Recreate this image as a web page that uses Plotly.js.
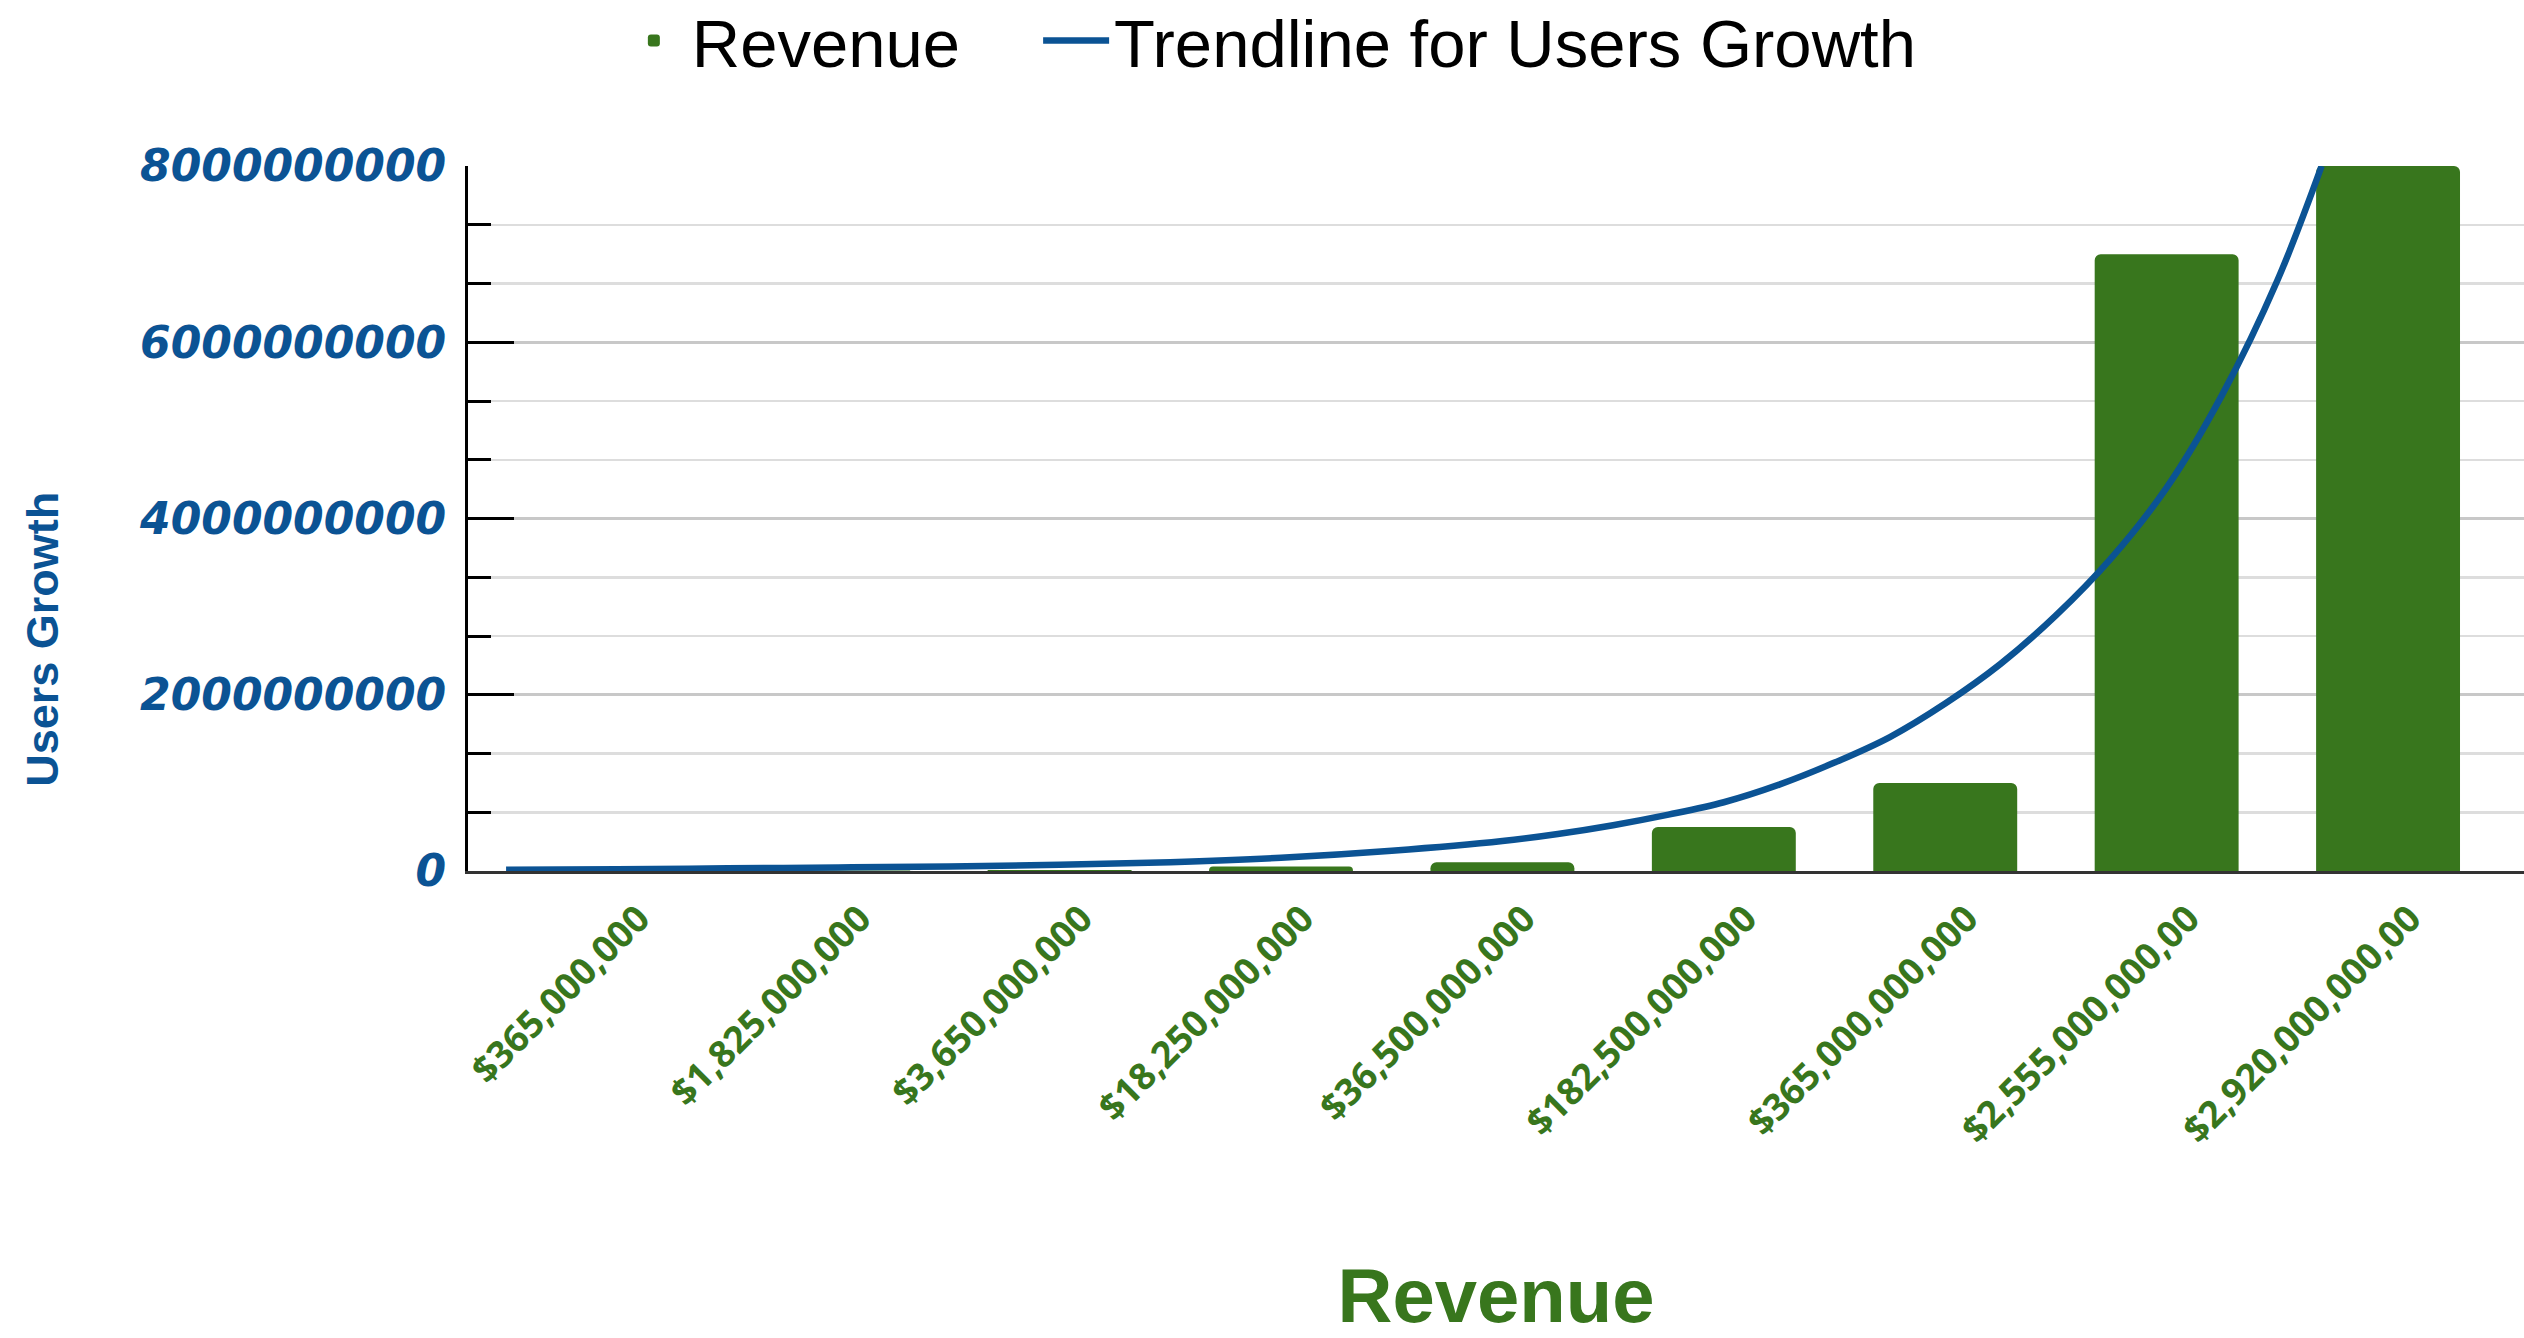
<!DOCTYPE html>
<html>
<head>
<meta charset="utf-8">
<script src="https://cdn.plot.ly/plotly-3.0.1.min.js"></script>
<style>
  html, body { margin: 0; padding: 0; background: #ffffff; }
  #chart { width: 2524px; height: 1338px; }
</style>
</head>
<body>
<div id="chart"></div>
<script>
// Category labels (Revenue) as shown on the x axis
const revenueLabels = [
  "$365,000,000",
  "$1,825,000,000",
  "$3,650,000,000",
  "$18,250,000,000",
  "$36,500,000,000",
  "$182,500,000,000",
  "$365,000,000,000",
  "$2,555,000,000,00",
  "$2,920,000,000,00"
];

// Users Growth values (bar heights)
const usersGrowth = [1000000, 5000000, 10000000, 50000000, 100000000, 500000000, 1000000000, 7000000000, 8000000000];

// Trendline for Users Growth (x in category-index units)
const trendX = [-0.5, 0, 0.5, 1, 1.5, 2, 2.5, 3, 3.5, 4, 4.25, 4.5, 4.75, 5, 5.25, 5.5, 5.75, 6, 6.25, 6.5, 6.75, 7, 7.25, 7.5, 7.7];
const trendY = [15e6, 20e6, 30e6, 40e6, 52e6, 70e6, 100e6, 150e6, 230e6, 340e6, 420e6, 520e6, 640e6, 780e6, 980e6, 1230e6, 1520e6, 1900e6, 2350e6, 2900e6, 3550e6, 4350e6, 5400e6, 6700e6, 8000e6];

// Y axis tick values
const yTicks = [0, 2000000000, 4000000000, 6000000000, 8000000000];

const catIndex = revenueLabels.map((_, i) => i);

const GREEN = "#38761d";
const BLUE = "#0b5394";
const LEGEND_FONT = { family: "Liberation Sans, Arial, sans-serif", size: 67, color: "#000000" };

const data = [
  {
    type: "bar",
    name: "Revenue",
    x: catIndex,
    y: usersGrowth,
    width: 0.65,
    marker: { color: GREEN, cornerradius: 6 },
    legend: "legend",
    hoverinfo: "skip"
  },
  {
    type: "scatter",
    mode: "lines",
    name: "Trendline for Users Growth",
    x: trendX,
    y: trendY,
    line: { color: BLUE, width: 6.5, shape: "spline", smoothing: 1 },
    legend: "legend2",
    hoverinfo: "skip"
  }
];

const layout = {
  width: 2524,
  height: 1338,
  paper_bgcolor: "#ffffff",
  plot_bgcolor: "#ffffff",
  margin: { l: 468, r: 0, t: 166, b: 467, pad: 0, autoexpand: false },
  showlegend: true,
  legend: {
    orientation: "h",
    xref: "container",
    yref: "paper",
    x: 0.2440,
    xanchor: "left",
    y: 1.1775,
    yanchor: "middle",
    font: LEGEND_FONT,
    itemwidth: 66,
    bgcolor: "rgba(0,0,0,0)"
  },
  legend2: {
    orientation: "h",
    xref: "container",
    yref: "paper",
    x: 0.4113,
    xanchor: "left",
    y: 1.1775,
    yanchor: "middle",
    font: LEGEND_FONT,
    itemwidth: 66,
    bgcolor: "rgba(0,0,0,0)"
  },
  xaxis: {
    type: "linear",
    range: [-0.672, 8.614],
    tickvals: catIndex,
    ticktext: revenueLabels,
    tickangle: -45,
    ticks: "",
    showgrid: false,
    zeroline: false,
    showline: true,
    linecolor: "#333333",
    linewidth: 3,
    ticklabelstandoff: 8,
    ticklabelshift: 22,
    tickfont: { family: "Open Sans, Liberation Sans, sans-serif", size: 37, color: GREEN, weight: 700 },
    title: {
      text: "Revenue",
      font: { family: "Liberation Sans, Arial, sans-serif", size: 76, color: GREEN, weight: 700 },
      standoff: 136
    },
    automargin: false,
    fixedrange: true
  },
  yaxis: {
    range: [0, 8000000000],
    tickvals: yTicks,
    ticktext: yTicks.map(v => String(v)),
    ticks: "inside",
    ticklen: 46,
    tickwidth: 3,
    tickcolor: "#000000",
    showline: true,
    linecolor: "#000000",
    linewidth: 3,
    zeroline: false,
    showgrid: true,
    gridcolor: "#c8c8c8",
    gridwidth: 3,
    ticklabelstandoff: 10,
    tickfont: { family: "DejaVu Sans, sans-serif", size: 44, color: BLUE, weight: 700, style: "italic" },
    minor: {
      dtick: 2000000000 / 3,
      tick0: 0,
      ticks: "inside",
      ticklen: 23,
      tickwidth: 3,
      tickcolor: "#000000",
      showgrid: true,
      gridcolor: "#dddddd",
      gridwidth: 2.5
    },
    automargin: false,
    fixedrange: true
  },
  annotations: [
    {
      text: "Users Growth",
      xref: "paper",
      yref: "paper",
      x: -0.2067,
      y: 0.328,
      xanchor: "center",
      yanchor: "middle",
      textangle: -90,
      showarrow: false,
      font: { family: "Liberation Sans, Arial, sans-serif", size: 45, color: BLUE, weight: 700 }
    }
  ]
};

Plotly.newPlot("chart", data, layout, { displayModeBar: false, staticPlot: true });
</script>
</body>
</html>
